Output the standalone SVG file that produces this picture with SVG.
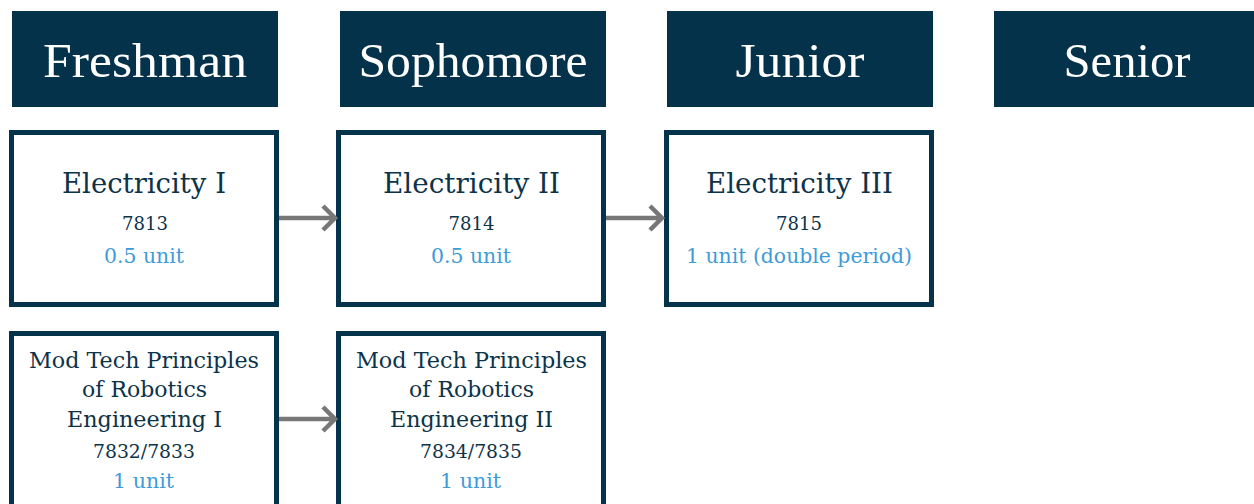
<svg xmlns="http://www.w3.org/2000/svg" width="1254" height="504" viewBox="0 0 1254 504">
<style>
.hdr{fill:#03324a}
.ht{font-family:"Liberation Serif",serif;font-size:48px;fill:#ffffff;text-anchor:middle}
.box{fill:#ffffff;stroke:#04334b;stroke-width:5}
.t{font-family:"DejaVu Serif",serif;fill:#0d3349;text-anchor:middle}
.t1{font-size:28px}
.t2{font-size:22.5px}
.num{font-size:19px}
.u{font-family:"DejaVu Serif",serif;font-size:20px;fill:#3d9bd8;text-anchor:middle}
.con{fill:none;stroke:#777777;stroke-width:4.5}
</style>
<rect width="1254" height="504" fill="#ffffff"/>
<g id="hdr-freshman"><rect class="hdr" x="12" y="11" width="266" height="96"/><text class="ht" x="145" y="77" textLength="204" lengthAdjust="spacingAndGlyphs">Freshman</text></g>
<g id="hdr-sophomore"><rect class="hdr" x="340" y="11" width="266" height="96"/><text class="ht" x="473" y="77" textLength="229" lengthAdjust="spacingAndGlyphs">Sophomore</text></g>
<g id="hdr-junior"><rect class="hdr" x="667" y="11" width="266" height="96"/><text class="ht" x="800" y="77" textLength="129" lengthAdjust="spacingAndGlyphs">Junior</text></g>
<g id="hdr-senior"><rect class="hdr" x="994" y="11" width="266" height="96"/><text class="ht" x="1127" y="77" textLength="127" lengthAdjust="spacingAndGlyphs">Senior</text></g>

<g id="elec1"><rect class="box" x="11.5" y="132.5" width="265" height="172"/>
<text class="t t1" x="144" y="193" textLength="164" lengthAdjust="spacingAndGlyphs">Electricity I</text>
<text class="t num" x="145" y="230" textLength="46" lengthAdjust="spacingAndGlyphs">7813</text>
<text class="u" x="144" y="263" textLength="80" lengthAdjust="spacingAndGlyphs">0.5 unit</text></g>
<g id="elec2"><rect class="box" x="338.5" y="132.5" width="265" height="172"/>
<text class="t t1" x="471.5" y="193" textLength="177" lengthAdjust="spacingAndGlyphs">Electricity II</text>
<text class="t num" x="471.5" y="230" textLength="46" lengthAdjust="spacingAndGlyphs">7814</text>
<text class="u" x="471" y="263" textLength="80" lengthAdjust="spacingAndGlyphs">0.5 unit</text></g>
<g id="elec3"><rect class="box" x="666.5" y="132.5" width="265" height="172"/>
<text class="t t1" x="799.5" y="193" textLength="187" lengthAdjust="spacingAndGlyphs">Electricity III</text>
<text class="t num" x="799" y="230" textLength="46" lengthAdjust="spacingAndGlyphs">7815</text>
<text class="u" x="799" y="263" textLength="226" lengthAdjust="spacingAndGlyphs">1 unit (double period)</text></g>

<g id="robo1"><rect class="box" x="11.5" y="333.5" width="265" height="200"/>
<text class="t t2" x="144" y="368" textLength="230" lengthAdjust="spacingAndGlyphs">Mod Tech Principles</text>
<text class="t t2" x="144.5" y="397" textLength="125" lengthAdjust="spacingAndGlyphs">of Robotics</text>
<text class="t t2" x="144.5" y="427" textLength="155" lengthAdjust="spacingAndGlyphs">Engineering I</text>
<text class="t num" x="144" y="458" textLength="102" lengthAdjust="spacingAndGlyphs">7832/7833</text>
<text class="u" x="143.5" y="488" textLength="61" lengthAdjust="spacingAndGlyphs">1 unit</text></g>
<g id="robo2"><rect class="box" x="338.5" y="333.5" width="265" height="200"/>
<text class="t t2" x="471.5" y="368" textLength="231" lengthAdjust="spacingAndGlyphs">Mod Tech Principles</text>
<text class="t t2" x="471.5" y="397" textLength="125" lengthAdjust="spacingAndGlyphs">of Robotics</text>
<text class="t t2" x="471.5" y="427" textLength="163" lengthAdjust="spacingAndGlyphs">Engineering II</text>
<text class="t num" x="471" y="458" textLength="102" lengthAdjust="spacingAndGlyphs">7834/7835</text>
<text class="u" x="470.5" y="488" textLength="61" lengthAdjust="spacingAndGlyphs">1 unit</text></g>

<g id="connectors">
<path class="con" d="M279 218H334M323 206L335 218L323 230"/>
<path class="con" d="M606 218H661M650 206L662 218L650 230"/>
<path class="con" d="M279 419H334M323 407L335 419L323 431"/>
</g>
</svg>
